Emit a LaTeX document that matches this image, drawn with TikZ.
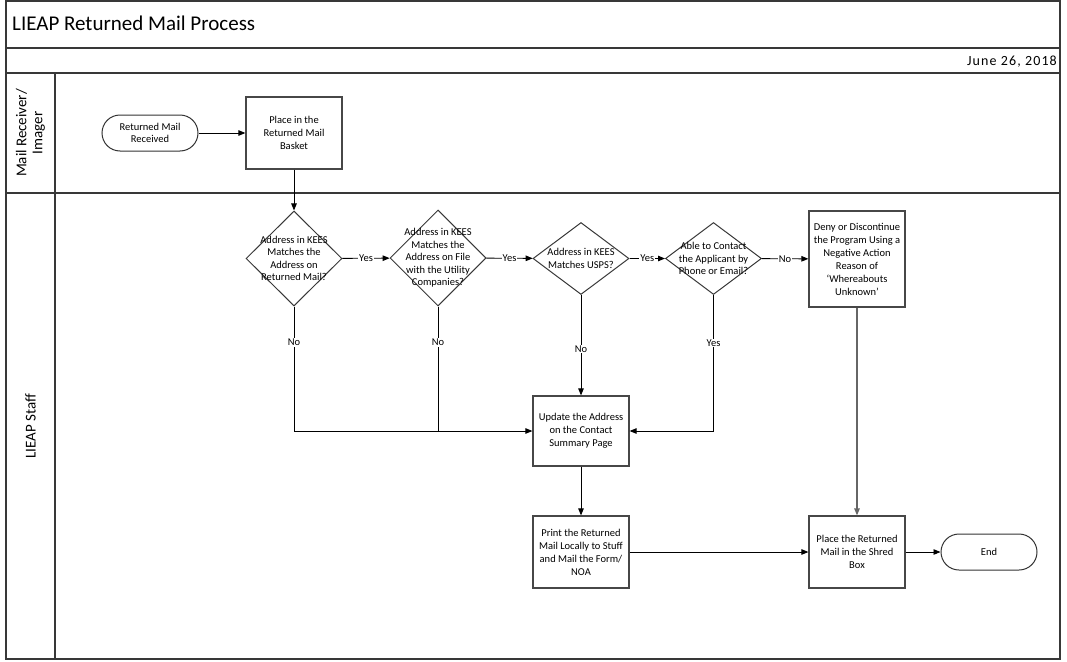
\documentclass[tikz,border=0pt]{standalone}
\usepackage{fontspec}
\setmainfont{Carlito}
\usetikzlibrary{shapes.geometric,arrows.meta,calc}
\begin{document}
\begin{tikzpicture}[x=1pt,y=-1pt,
  frame/.style={draw=black!78, line width=1.3pt},
  proc/.style={draw=black!72, line width=1.2pt, minimum width=96pt, minimum height=72pt,
    align=center, inner sep=0pt, font=\fontsize{10.5}{13}\selectfont},
  term/.style={draw=black!80, line width=1pt, rounded corners=18pt, minimum width=96pt,
    minimum height=36pt, align=center, inner sep=0pt, font=\fontsize{10.5}{12.5}\selectfont},
  dec/.style={diamond, draw=black!78, line width=1pt, inner sep=0pt},
  dtext/.style={align=center, inner sep=0pt, font=\fontsize{10.5}{12.5}\selectfont},
  conn/.style={draw=black, line width=0.9pt, -{Triangle[length=7pt,width=5.5pt]}},
  plain/.style={draw=black, line width=0.9pt},
  lbl/.style={fill=white, inner sep=1pt, font=\fontsize{10.5}{12}\selectfont},
  lane/.style={rotate=90, align=center, font=\fontsize{15}{16}\selectfont}]
\useasboundingbox (0,0) rectangle (1067,661);
% frame
\draw[frame] (6,1) rectangle (1060,659);
\draw[frame] (6,48) -- (1060,48);
\draw[frame] (6,73) -- (1060,73);
\draw[frame] (6,193) -- (1060,193);
\draw[frame] (55,73) -- (55,659);
\node[anchor=base west, inner sep=0pt, font=\fontsize{21}{24}\selectfont] (title) at (12,31) {LIEAP Returned Mail Process};
\node[anchor=base east, inner sep=0pt, font=\fontsize{14}{16}\selectfont\addfontfeature{LetterSpace=8}] (date) at (1057,66) {June 26, 2018};
\node[lane] (lane1) at (30.5,133) {Mail Receiver/\\Imager};
\node[lane] (lane2) at (30.5,426) {LIEAP Staff};
% nodes
\node[term] (start) at (150,133) {Returned Mail\\Received};
\node[proc] (basket) at (294,133) {Place in the\\Returned Mail\\Basket};
\node[dec, minimum width=96pt, minimum height=95pt] (d1) at (294,258.5) {};
\node[dtext] (t1) at (d1) {Address in KEES\\Matches the\\Address on\\Returned Mail?};
\node[dec, minimum width=96pt, minimum height=96pt] (d2) at (438,258) {};
\node[dtext] (t2) at (d2) {Address in KEES\\Matches the\\Address on File\\with the Utility\\Companies?};
\node[dec, minimum width=96pt, minimum height=72pt] (d3) at (581,258.5) {};
\node[dtext] (t3) at (d3) {Address in KEES\\Matches USPS?};
\node[dec, minimum width=96pt, minimum height=72pt] (d4) at (713.5,258.5) {};
\node[dtext] (t4) at (d4) {Able to Contact\\the Applicant by\\Phone or Email?};
\node[proc, minimum height=96pt] (deny) at (857,259) {Deny or Discontinue\\the Program Using a\\Negative Action\\Reason of\\‘Whereabouts\\Unknown’};
\node[proc, minimum height=70pt] (update) at (581,431) {Update the Address\\on the Contact\\Summary Page};
\node[proc] (print) at (581,552) {Print the Returned\\Mail Locally to Stuff\\and Mail the Form/\\NOA};
\node[proc] (shred) at (857,552) {Place the Returned\\Mail in the Shred\\Box};
\node[term] (end) at (989,552) {End};
% connectors
\draw[conn] (start) -- (basket);
\draw[conn] (basket) -- (d1);
\draw[conn] (d1) -- node[lbl]{Yes} (d2);
\draw[conn] (d2) -- node[lbl]{Yes} (d3);
\draw[conn] (d3) -- node[lbl]{Yes} (d4);
\draw[conn] (d4) -- node[lbl]{No} (deny);
\draw[conn] (d1.south) |- (update.west);
\draw[plain] (d2.south) -- (d2.south |- update.west);
\draw[conn] (d3) -- (update);
\draw[conn] (d4.south) |- (update.east);
\node[lbl] (n1) at ($(d1.south)+(0,36)$) {No};
\node[lbl] (n2) at ($(d2.south)+(0,36)$) {No};
\node[lbl] (n3) at ($(d3.south)+(0,54)$) {No};
\node[lbl] (y4) at ($(d4.south)+(0,48)$) {Yes};
\draw[conn, draw=black!60, line width=1.2pt] (deny) -- (shred);
\draw[conn] (update) -- (print);
\draw[conn] (print) -- (shred);
\draw[conn] (shred) -- (end);
\end{tikzpicture}
\end{document}
